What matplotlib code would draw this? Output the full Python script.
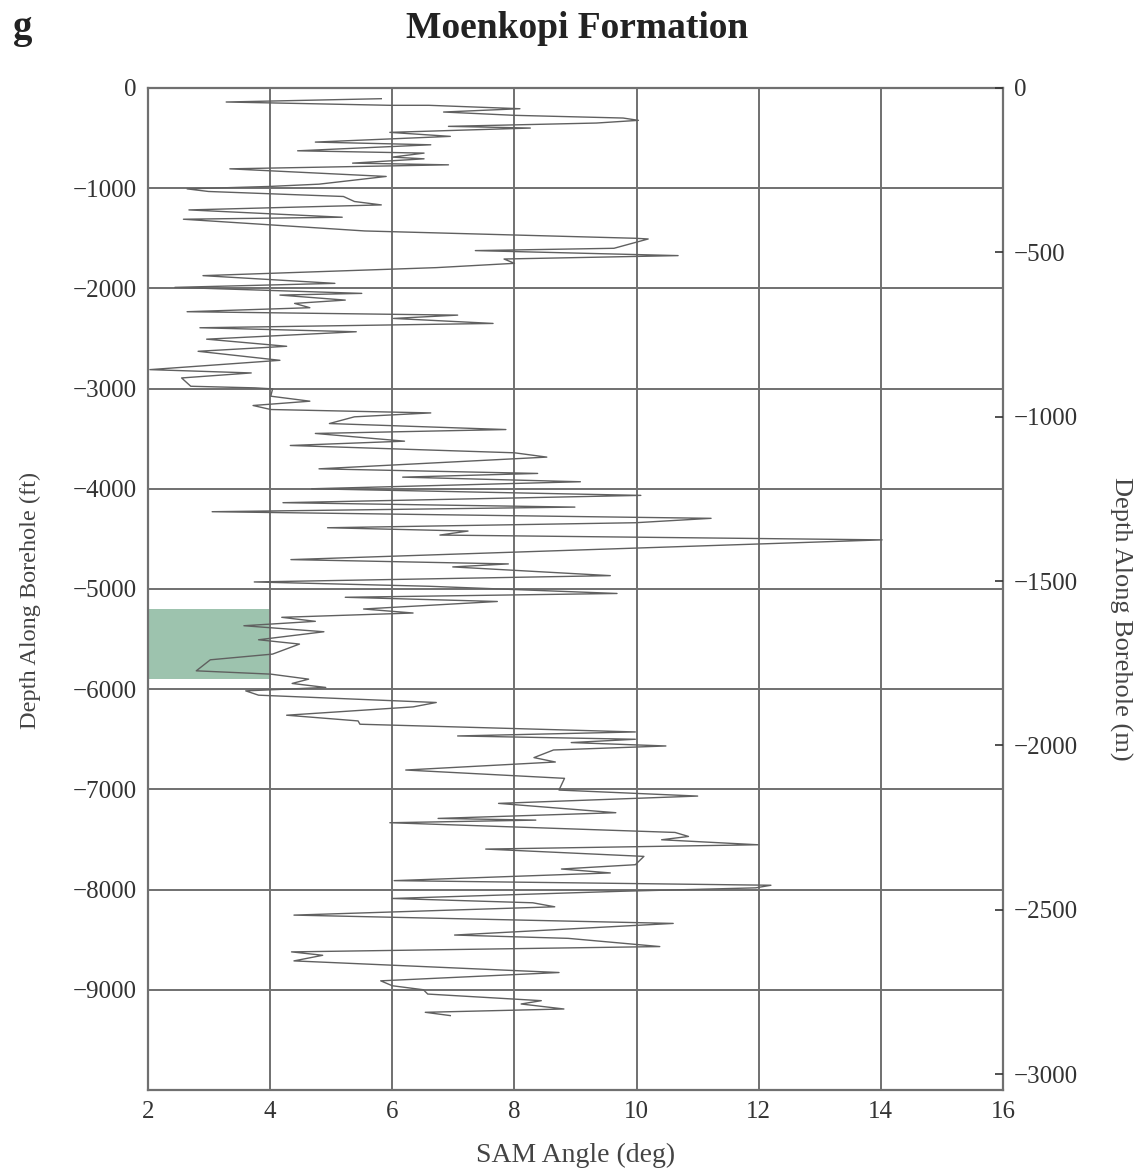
import numpy as np
import matplotlib
matplotlib.use("Agg")
import matplotlib.pyplot as plt

plt.rcParams['font.family'] = ['Liberation Serif', 'DejaVu Serif']

# SAM angle (deg) vs depth along borehole (ft)
sam_angle = [5.82, 3.28, 5.96, 6.6, 8.09, 6.84, 8.0, 9.78, 10.03, 9.34, 6.92, 8.26,
             5.96, 6.95, 4.74, 6.63, 4.45, 6.52, 6.0, 6.52, 5.35, 6.92, 3.34, 5.9,
             4.8, 3.98, 2.64, 2.99, 5.2, 5.38, 5.82, 2.67, 5.18, 2.58, 5.55, 9.98,
             10.19, 9.63, 7.36, 10.68, 7.83, 8.0, 6.72, 2.9, 5.06, 2.44, 5.5, 4.16,
             5.23, 4.4, 4.65, 2.64, 7.07, 6.02, 7.65, 2.85, 5.41, 2.96, 4.27, 2.82,
             4.16, 2.03, 3.69, 2.55, 2.7, 3.75, 4.04, 4.01, 4.65, 3.72, 4.01, 6.63,
             5.38, 4.97, 7.86, 4.74, 6.2, 4.33, 8.0, 8.53, 4.8, 8.38, 6.17, 9.08,
             4.68, 10.07, 4.21, 8.99, 3.05, 11.22, 9.98, 4.94, 7.24, 6.78, 14.02,
             4.34, 7.9, 6.99, 9.57, 3.74, 6.6, 9.68, 5.23, 7.72, 5.53, 6.34, 4.19,
             4.74, 3.57, 4.88, 3.81, 4.48, 4.04, 3.02, 2.79, 4.01, 4.63, 4.36, 4.91,
             3.6, 3.81, 6.72, 6.34, 4.27, 5.44, 5.47, 9.98, 7.07, 9.98, 8.93, 10.48,
             8.64, 8.32, 8.67, 6.22, 8.82, 8.73, 11.0, 7.74, 9.66, 6.75, 8.35, 5.96,
             10.63, 10.85, 10.41, 11.99, 7.53, 10.12, 9.98, 8.77, 9.57, 6.03, 12.2,
             11.95, 9.76, 6.0, 8.3, 8.66, 4.39, 10.6, 7.02, 8.88, 10.38, 4.35, 4.86,
             4.39, 8.73, 5.81, 6.0, 6.51, 6.58, 8.44, 8.11, 8.81, 6.54, 6.95]
depth_ft = [-107, -140, -173, -173, -207, -240, -273, -300, -323, -350, -383, -400,
            -443, -483, -540, -567, -627, -650, -690, -707, -750, -767, -807, -883,
            -960, -983, -1007, -1033, -1083, -1133, -1167, -1217, -1290, -1310, -1427, -1500,
            -1507, -1600, -1623, -1673, -1707, -1750, -1793, -1873, -1950, -1990, -2050, -2067,
            -2117, -2150, -2193, -2233, -2267, -2300, -2350, -2393, -2433, -2507, -2578, -2628,
            -2718, -2811, -2844, -2894, -2977, -2993, -3003, -3076, -3126, -3169, -3209, -3243,
            -3282, -3349, -3409, -3448, -3525, -3568, -3641, -3684, -3801, -3847, -3884, -3930,
            -4000, -4066, -4139, -4183, -4229, -4295, -4339, -4389, -4422, -4462, -4510,
            -4707, -4750, -4780, -4867, -4930, -4973, -5045, -5083, -5125, -5200, -5240, -5283,
            -5323, -5367, -5427, -5507, -5550, -5650, -5707, -5817, -5850, -5900, -5943, -5983,
            -6017, -6060, -6133, -6177, -6260, -6317, -6350, -6427, -6467, -6500, -6533, -6567,
            -6607, -6683, -6727, -6807, -6890, -7007, -7067, -7140, -7233, -7290, -7307, -7333,
            -7430, -7470, -7503, -7553, -7596, -7669, -7752, -7795, -7834, -7911, -7957,
            -7983, -8017, -8089, -8132, -8172, -8255, -8338, -8454, -8487, -8569, -8622, -8656,
            -8712, -8828, -8911, -8960, -9000, -9043, -9109, -9142, -9192, -9225, -9258]

# highlighted interval
shade_x = [2, 4]
shade_depth = [-5200, -5900]

x_ticks = [2, 4, 6, 8, 10, 12, 14, 16]
y_ticks = [0, -1000, -2000, -3000, -4000, -5000, -6000, -7000, -8000, -9000]
m_ticks = [0, -500, -1000, -1500, -2000, -2500, -3000]

fig = plt.figure(figsize=(11.43, 11.73), dpi=100)
ax = fig.add_axes([0.1295, 0.0708, 0.748, 0.8542])

grid_c = '#707070'
ax.fill_between(shade_x, shade_depth[0], shade_depth[1], color='#9dc3ae', lw=0, zorder=1)
ax.plot(sam_angle, depth_ft, color='#606060', lw=1.0, zorder=3)

ax.set_xlim(2, 16)
ax.set_ylim(-10000, 0)
ax.set_xticks(x_ticks)
ax.set_yticks(y_ticks)
ax.set_yticklabels([str(v).replace('-', '\u2212') for v in y_ticks])
ax.grid(True, color=grid_c, lw=1.4, zorder=2)
ax.tick_params(length=0, labelsize=18, colors='#333333', pad=8)
for s in ax.spines.values():
    s.set_color(grid_c)
    s.set_linewidth(1.6)

ax.set_xlabel('SAM Angle (deg)', fontsize=20, color='#444444', labelpad=14)
ax.set_ylabel('Depth Along Borehole (ft)', fontsize=17.5, color='#444444',
              ha='center', va='center')
ax.yaxis.set_label_coords(-0.138, 0.489)

ax2 = ax.twinx()
ax2.set_ylim(-10000 * 0.3048, 0)
ax2.set_yticks(m_ticks)
ax2.set_yticklabels([str(v).replace('-', '\u2212') for v in m_ticks])
ax2.tick_params(direction='in', length=6, width=1.2, colors='#333333', labelsize=18, pad=8)
for s in ax2.spines.values():
    s.set_visible(False)
ax2.set_ylabel('Depth Along Borehole (m)', fontsize=19, color='#444444', rotation=270,
               ha='center', va='center')
ax2.yaxis.set_label_coords(1.137, 0.47)

fig.text(0.505, 0.976, 'Moenkopi Formation', fontsize=27, fontweight='bold',
         ha='center', va='center', color='#222222')
fig.text(0.011, 0.976, 'g', fontsize=28, fontweight='bold', ha='left', va='center',
         color='#222222')

fig.savefig('out.png', dpi=100)
